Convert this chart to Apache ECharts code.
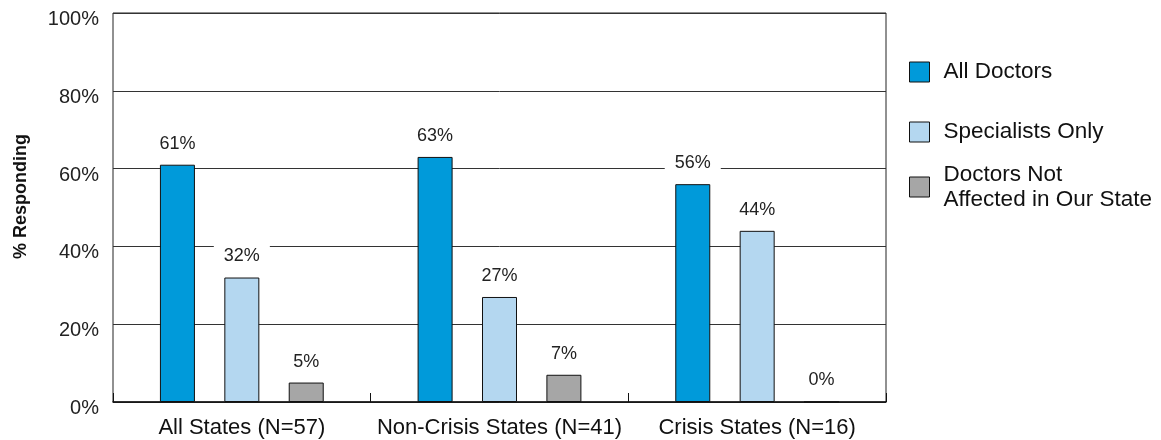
<!DOCTYPE html>
<html>
<head>
<meta charset="utf-8">
<script src="https://cdn.jsdelivr.net/npm/echarts@6/dist/echarts.min.js"></script>
<style>html,body{margin:0;padding:0;background:#fff}#c{width:1161px;height:440px}</style>
</head>
<body>
<div id="c"></div>
<script>
const categories = ['All States (N=57)', 'Non-Crisis States (N=41)', 'Crisis States (N=16)'];
const seriesNames = ['All Doctors', 'Specialists Only', 'Doctors Not\nAffected in Our State'];
const allDoctors = [61, 63, 56];
const specialistsOnly = [32, 27, 44];
const notAffected = [5, 7, 0];
const yTicks = [0, 20, 40, 60, 80, 100];
const colors = ['#009ADA', '#B4D7F0', '#A6A6A6'];
const values = [allDoctors, specialistsOnly, notAffected];

const FONT = 'Liberation Sans';
const chart = echarts.init(document.getElementById('c'));

const series = values.map((v, i) => ({
  name: seriesNames[i],
  type: 'bar',
  data: v,
  barWidth: 35,
  barGap: '84%',
  itemStyle: { color: colors[i], borderColor: '#111', borderWidth: 1 },
  label: {
    show: true, position: 'top', distance: 9,
    formatter: '{c}%', color: '#222', fontFamily: FONT, fontSize: 18,
    lineHeight: 20, backgroundColor: '#fff', padding: [2, 10]
  }
}));

const legendTops = [54.5, 114.5, 144.5];
const legends = seriesNames.map((n, i) => ({
  data: [n],
  left: 904,
  top: legendTops[i],
  itemWidth: 20,
  itemHeight: 20,
  itemGap: 0,
  icon: 'rect',
  selectedMode: false,
  itemStyle: { borderColor: '#111', borderWidth: 1 },
  textStyle: Object.assign(
    { fontFamily: FONT, fontSize: 22.5, color: '#111', lineHeight: 25, padding: [0, 0, 0, 9] },
    i === 2 ? { padding: [25, 0, 0, 9] } : {}
  )
}));

chart.setOption({
  animation: false,
  backgroundColor: '#fff',
  grid: {
    left: 113, right: 275, top: 13, bottom: 38,
    show: true, borderColor: '#222', borderWidth: 1,
    containLabel: false, outerBoundsMode: 'none'
  },
  legend: legends,
  xAxis: {
    type: 'category',
    data: categories,
    axisLine: { lineStyle: { color: '#111', width: 1.5 } },
    axisTick: { show: true, inside: true, length: 9, interval: 0, lineStyle: { color: '#111' } },
    axisLabel: { fontFamily: FONT, fontSize: 22, color: '#111', margin: 15, interval: 0, hideOverlap: false }
  },
  yAxis: {
    type: 'value',
    min: yTicks[0], max: yTicks[yTicks.length - 1], interval: 20,
    name: '% Responding',
    nameLocation: 'middle',
    nameRotate: 90,
    nameGap: 83,
    nameTextStyle: { fontFamily: FONT, fontSize: 18, fontWeight: 'bold', color: '#111', padding: [0, 0, 0, 22] },
    axisLine: { show: false },
    axisTick: { show: false },
    axisLabel: {
      formatter: '{value}%', fontFamily: FONT, fontSize: 20, color: '#222',
      margin: 14, verticalAlign: 'top', lineHeight: 13
    },
    splitLine: { lineStyle: { color: '#333', width: 1 } }
  },
  series: series
});
</script>
</body>
</html>
